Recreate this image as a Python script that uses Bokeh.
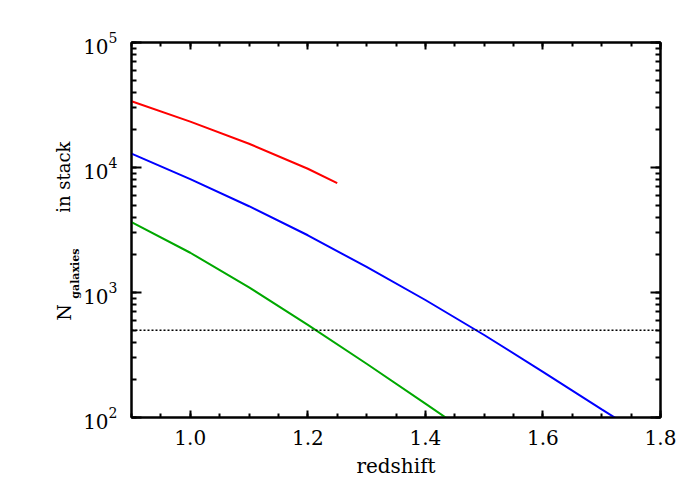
import math
from bokeh.plotting import figure
from bokeh.models import (Range1d, LinearAxis, LogAxis, LogTicker, SingleIntervalTicker,
                          Span, Label, CustomJSTickFormatter, PrintfTickFormatter)
from bokeh.embed import file_html
from bokeh.resources import INLINE

# ---- data ----
z_red = [0.9, 1.0, 1.1, 1.2, 1.25]
n_red = [33900, 23300, 15500, 9770, 7500]

z_blue = [0.9, 1.0, 1.1, 1.2, 1.3, 1.4, 1.5, 1.6, 1.7, 1.725]
n_blue = [12900, 8070, 4900, 2870, 1600, 871, 457, 232, 116, 98]

z_green = [0.9, 1.0, 1.1, 1.2, 1.3, 1.4, 1.44]
n_green = [3650, 2080, 1100, 550, 269, 129, 96]

threshold = 500
x_range = (0.9, 1.8)
y_range = (100, 1e5)

FONT = "DejaVu Serif"

p = figure(frame_width=529, frame_height=375, y_axis_type="log",
           x_range=Range1d(*x_range), y_range=Range1d(*y_range),
           output_backend="svg", toolbar_location=None,
           min_border_left=131, min_border_top=42, min_border_right=32, min_border_bottom=75)
p.background_fill_color = "white"
p.border_fill_color = "white"
p.grid.visible = False
p.outline_line_color = "black"
p.outline_line_width = 2

xt = SingleIntervalTicker(interval=0.2, num_minor_ticks=4)
yt = LogTicker(num_minor_ticks=10)

def style_common(ax):
    ax.axis_line_width = 2
    ax.major_tick_out = 0
    ax.minor_tick_out = 0
    ax.major_tick_line_width = 2
    ax.minor_tick_line_width = 2
    ax.major_label_text_font = FONT
    ax.major_label_text_font_size = "20px"
    ax.major_label_text_color = "black"

def style_x(ax):
    style_common(ax)
    ax.ticker = xt
    ax.major_tick_in = 7
    ax.minor_tick_in = 4

def style_y(ax):
    style_common(ax)
    ax.ticker = yt
    ax.major_tick_in = 10
    ax.minor_tick_in = 5

style_x(p.xaxis[0])
p.xaxis[0].formatter = PrintfTickFormatter(format="%.1f")
p.xaxis[0].major_label_standoff = 12
p.xaxis[0].axis_label = "redshift"
p.xaxis[0].axis_label_text_font = FONT
p.xaxis[0].axis_label_text_font_style = "normal"
p.xaxis[0].axis_label_text_font_size = "20px"
p.xaxis[0].axis_label_text_color = "black"
p.xaxis[0].axis_label_standoff = 6

style_y(p.yaxis[0])
p.yaxis[0].major_label_standoff = 14

blank = CustomJSTickFormatter(code="return ''")
top = LinearAxis()
style_x(top)
top.formatter = blank
p.add_layout(top, "above")
right = LogAxis()
style_y(right)
right.formatter = blank
p.add_layout(right, "right")

p.line(z_red, n_red, line_color="#ff0000", line_width=2)
p.line(z_blue, n_blue, line_color="#0000ff", line_width=2)
p.line(z_green, n_green, line_color="#00a800", line_width=2)
p.add_layout(Span(location=threshold, dimension="width", line_color="black",
                  line_width=1.5, line_dash="2 2"))

# y-axis title built from pieces: N_{galaxies} in stack (placed in the left panel, not clipped)
p.add_layout(Label(x=0.7845, y=595, text="N", angle=math.pi / 2, text_font=FONT,
                   text_font_size="19px", text_color="black",
                   text_baseline="alphabetic", text_align="left"), "left")
p.add_layout(Label(x=0.8039, y=893, text="galaxies", angle=math.pi / 2, text_font=FONT,
                   text_font_size="11px", text_font_style="bold", text_color="black",
                   text_baseline="alphabetic", text_align="left"), "left")
p.add_layout(Label(x=0.7845, y=4345, text="in stack", angle=math.pi / 2, text_font=FONT,
                   text_font_size="18px", text_color="black",
                   text_baseline="alphabetic", text_align="left"), "left")

open("out.html", "w").write(file_html(p, INLINE))
